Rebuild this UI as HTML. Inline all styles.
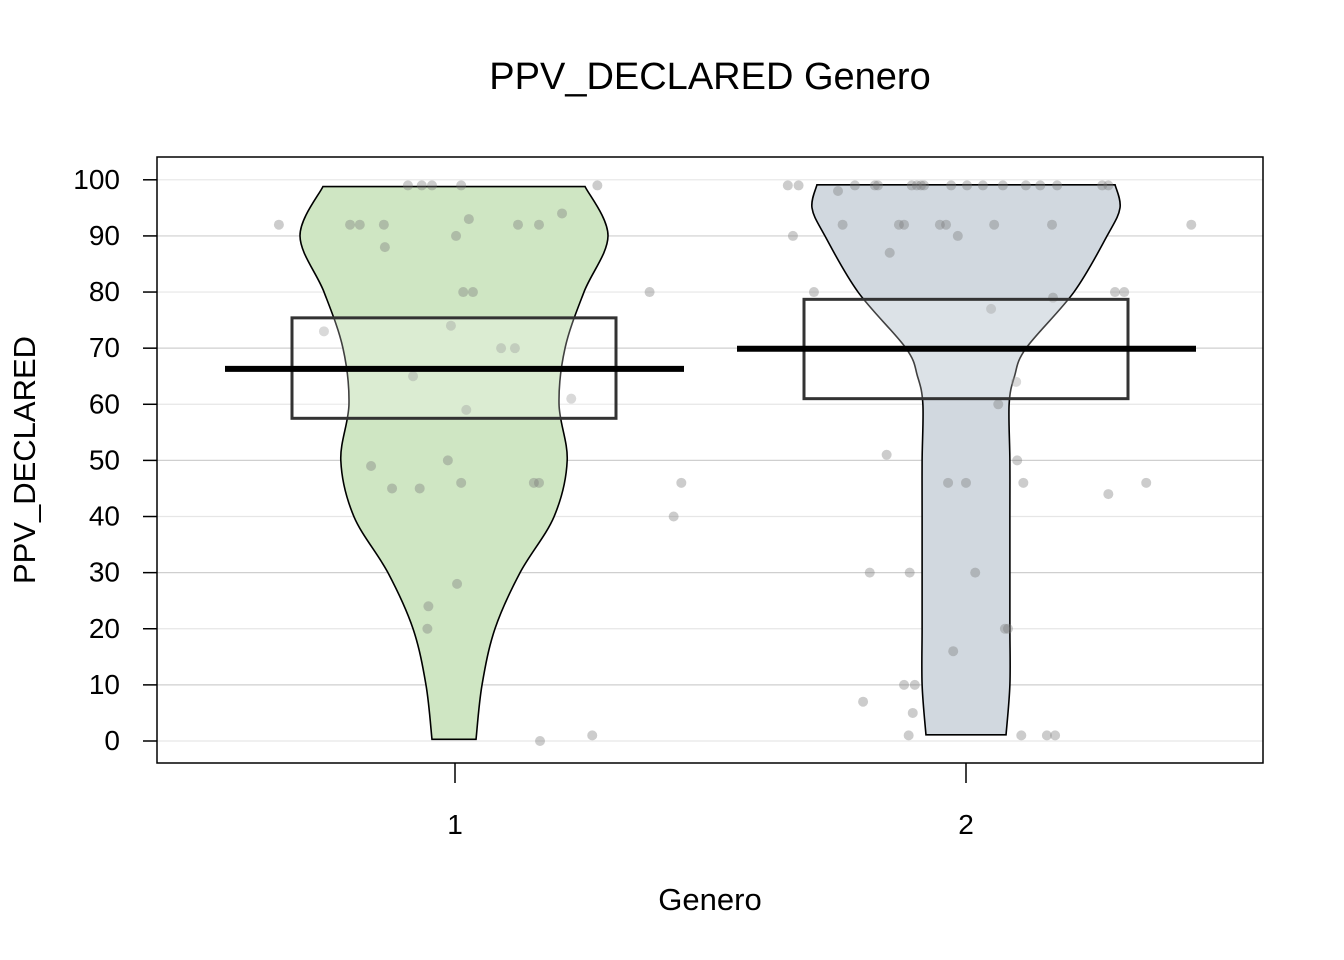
<!DOCTYPE html>
<html><head><meta charset="utf-8">
<style>
html,body{margin:0;padding:0;background:#fff;}
svg{display:block;font-family:"Liberation Sans",Arial,sans-serif;}
</style></head>
<body>
<svg id="chart" width="1344" height="960" viewBox="0 0 1344 960">
<text x="710" y="89" text-anchor="middle" font-size="38" fill="#000">PPV_DECLARED Genero</text>
<text x="710" y="910" text-anchor="middle" font-size="31" fill="#000">Genero</text>
<text transform="translate(35,460) rotate(-90)" text-anchor="middle" font-size="31" fill="#000">PPV_DECLARED</text>
<g id="grid"></g><g id="violins"></g><g id="points"></g><g id="boxes"></g><g id="axes"></g>
<rect x="157" y="157" width="1106" height="606" fill="none" stroke="#000" stroke-width="1.5"/>
</svg>
<script>
const groups = [1, 2];
const yTicks = [0,10,20,30,40,50,60,70,80,90,100];
const means = [66.3, 69.9];
const boxLow = [57.5, 61.0];
const boxHigh = [75.4, 78.7];
const densLevels1 = [0.3,10,20,30,40,50,60,70,80,90,98.8];
const densVals1 = [0.143,0.182,0.266,0.429,0.65,0.735,0.682,0.721,0.844,1.0,0.851];
const densLevels2 = [1.1,10,20,30,40,50,60,65,70,80,90,95,99.1];
const densVals2 = [0.26,0.285,0.285,0.285,0.285,0.285,0.28,0.315,0.39,0.701,0.916,1.0,0.968];
const pts1X = [-0.342,-0.254,-0.203,-0.184,-0.162,-0.137,-0.135,-0.121,-0.09,-0.08,-0.067,-0.063,-0.052,-0.05,-0.043,-0.012,-0.006,0.004,0.006,0.014,0.014,0.018,0.024,0.029,0.037,0.092,0.119,0.125,0.156,0.166,0.166,0.168,0.211,0.229,0.27,0.28,0.382,0.429,0.444];
const pts1Y = [92,73,92,92,49,92,88,45,99,65,45,99,20,24,99,50,74,90,28,99,46,80,59,93,80,70,70,92,46,46,92,0,94,61,1,99,80,40,46];
const pts2X = [-0.348,-0.327,-0.338,-0.297,-0.25,-0.241,-0.217,-0.201,-0.188,-0.178,-0.172,-0.155,-0.149,-0.131,-0.121,-0.121,-0.112,-0.11,-0.106,-0.104,-0.1,-0.096,-0.088,-0.082,-0.051,-0.039,-0.035,-0.029,-0.025,-0.016,0,0.002,0.018,0.033,0.049,0.055,0.063,0.072,0.076,0.082,0.098,0.1,0.108,0.112,0.117,0.145,0.158,0.168,0.17,0.174,0.178,0.266,0.278,0.278,0.291,0.309,0.352,0.44];
const pts2Y = [99,99,90,80,98,92,99,7,30,99,99,51,87,92,92,10,1,30,99,5,10,99,99,99,92,92,46,99,16,90,46,99,30,99,77,92,60,99,20,20,64,50,1,46,99,99,1,92,79,1,99,99,44,99,80,80,46,92];

const svg = document.getElementById('chart');
const NS = 'http://www.w3.org/2000/svg';
const X0 = 454, XU = 512, MAXHALF = 154;
function xs(v){ return X0 + (v-1)*XU; }
function ys(v){ return 741 - v*5.612; }
function mk(tag, attrs, parent){ const e=document.createElementNS(NS,tag); for(const k in attrs) e.setAttribute(k,attrs[k]); parent.appendChild(e); return e; }

const grid = document.getElementById('grid');
yTicks.forEach(t=>{
  const l = mk('line',{x1:157,x2:1263,y1:ys(t),y2:ys(t),stroke:(t%20===0?'#e6e6e6':'#cfcfcf'),'stroke-width':1.2},grid);
  
  
});

function smooth(p){
  let d='M'+p[0][0]+','+p[0][1];
  for(let i=0;i<p.length-1;i++){
    const p0=p[Math.max(0,i-1)],p1=p[i],p2=p[i+1],p3=p[Math.min(p.length-1,i+2)];
    d+=' C'+(p1[0]+(p2[0]-p0[0])/6)+','+(p1[1]+(p2[1]-p0[1])/6)+' '+(p2[0]-(p3[0]-p1[0])/6)+','+(p2[1]-(p3[1]-p1[1])/6)+' '+p2[0]+','+p2[1];
  }
  return d;
}
const vg = document.getElementById('violins');
[[densLevels1,densVals1,'#cfe6c3'],[densLevels2,densVals2,'#d1d8df']].forEach((s,gi)=>{
  const cx = xs(groups[gi]);
  const right = s[0].map((lv,i)=>[cx+s[1][i]*MAXHALF, ys(lv)]);
  const left = s[0].map((lv,i)=>[cx-s[1][i]*MAXHALF, ys(lv)]).reverse();
  const dr = smooth(right);
  const dl = smooth(left).replace(/^M/,' L');
  const p = mk('path',{d:dr+dl+' Z',fill:s[2],stroke:'#000','stroke-width':1.6},vg);
  
  
});

const pg = document.getElementById('points');
[[pts1X,pts1Y],[pts2X,pts2Y]].forEach((s,gi)=>{
  s[0].forEach((jx,i)=>{
    const c = mk('circle',{cx:xs(groups[gi]+jx),cy:ys(s[1][i]),r:5,fill:'rgba(120,120,120,0.38)'},pg);
    
    
  });
});

const bg = document.getElementById('boxes');
groups.forEach((g,i)=>{
  const cx = xs(g);
  const r = mk('rect',{x:cx-162,y:ys(boxHigh[i]),width:324,height:ys(boxLow[i])-ys(boxHigh[i]),fill:'rgba(255,255,255,0.25)',stroke:'#333','stroke-width':3},bg);
  
  
  const m = mk('line',{x1:cx-229,x2:cx+230,y1:ys(means[i]),y2:ys(means[i]),stroke:'#000','stroke-width':6},bg);
  
  
});

const ax = document.getElementById('axes');
yTicks.forEach(t=>{
  const l = mk('line',{x1:143,x2:157,y1:ys(t),y2:ys(t),stroke:'#000','stroke-width':1.5},ax);
  
  
  const tx = mk('text',{x:120,y:ys(t)+9,'text-anchor':'end','font-size':28,fill:'#000'},ax);
  tx.textContent = t;
  
  
});
groups.forEach(g=>{
  const cx = xs(g)+ (g===1?1:0);
  const l = mk('line',{x1:cx,x2:cx,y1:763,y2:783,stroke:'#000','stroke-width':1.5},ax);
  
  
  const tx = mk('text',{x:cx,y:834,'text-anchor':'middle','font-size':28,fill:'#000'},ax);
  tx.textContent = g;
  
  
});
</script>
</body></html>
